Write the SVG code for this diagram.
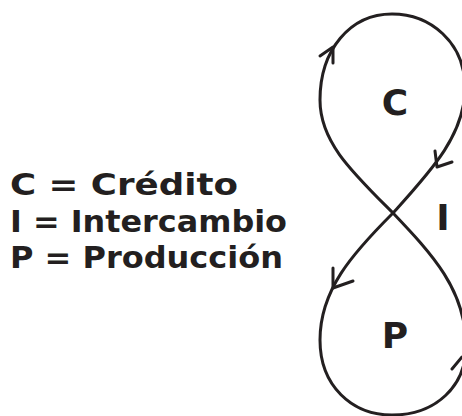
<svg xmlns="http://www.w3.org/2000/svg" width="462" height="416" viewBox="0 0 462 416">
<style>
.line{fill:none;stroke:#231f20;stroke-width:3;stroke-linecap:round;stroke-linejoin:round}
.lbl{font-family:"DejaVu Sans","Liberation Sans",sans-serif;font-weight:bold;fill:#231f20}
.leg{font-size:30px}
.big{font-size:36px;text-anchor:middle}
</style>
<rect width="462" height="416" fill="#ffffff"/>
<g id="connectors">
<path class="line" d="M393,213 C430,172 465,135 465,88 C465,42 430,14 392,14 C350,14 320,50 320,100 C320,142 352,172 393,213"/>
<path class="line" d="M393,213 C352,254 320,290 320,340 C320,386 352,415 392,415 C436,415 466,386 466,346 C466,290 432,254 393,213"/>
<path class="line" d="M320,56 L333,47 L333,63"/>
<path class="line" d="M435,151 L437,167 L452,162"/>
<path class="line" d="M333,268 L333,288 L353,281"/>
<path class="line" d="M452,369 L462,357"/>
</g>
<g id="node-C"><text class="lbl big" x="395" y="115">C</text></g>
<g id="node-I"><text class="lbl big" x="443" y="230">I</text></g>
<g id="node-P"><text class="lbl big" x="395" y="348">P</text></g>
<g id="legend">
<text class="lbl leg" x="10" y="195" textLength="228" lengthAdjust="spacingAndGlyphs">C = Crédito</text>
<text class="lbl leg" x="10" y="232" textLength="277" lengthAdjust="spacingAndGlyphs">I = Intercambio</text>
<text class="lbl leg" x="10" y="268" textLength="273" lengthAdjust="spacingAndGlyphs">P = Producción</text>
</g>
</svg>
